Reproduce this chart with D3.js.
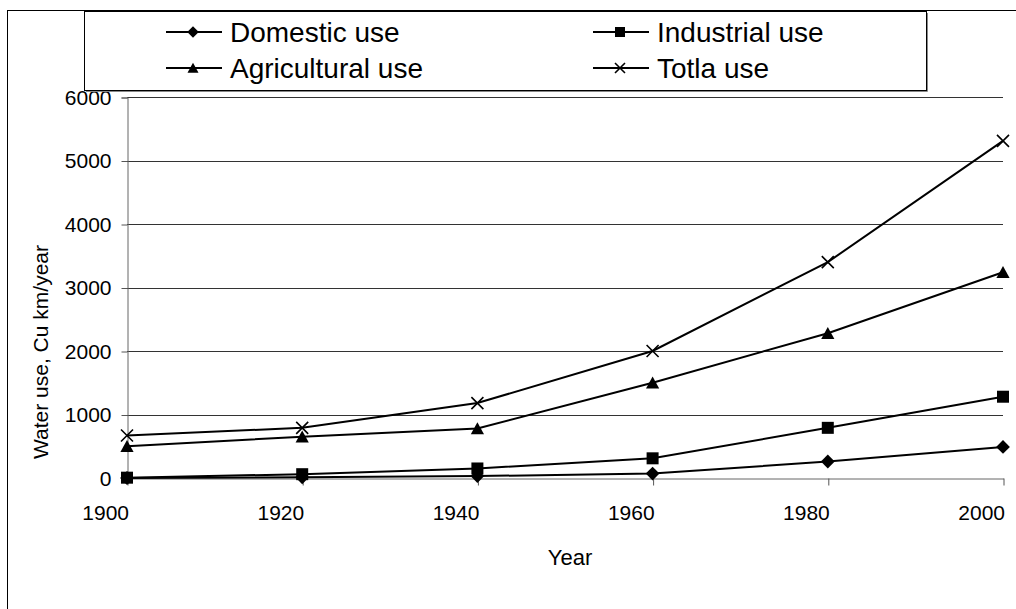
<!DOCTYPE html>
<html>
<head>
<meta charset="utf-8">
<script src="https://cdn.jsdelivr.net/npm/d3@7/dist/d3.min.js"></script>
<style>
  html, body { margin: 0; padding: 0; background: #fff; }
  svg { display: block; font-family: "Liberation Sans", Arial, sans-serif; }
</style>
</head>
<body>
<svg id="chart" width="1016" height="609"></svg>
<script>
// Water use by sector, cubic km per year
const years = ["1900", "1920", "1940", "1960", "1980", "2000"];
const domestic = [0, 10, 30, 70, 260, 490];
const industrial = [5, 60, 150, 310, 790, 1280];
const agricultural = [500, 650, 780, 1500, 2280, 3240];
const total = [670, 790, 1180, 2000, 3400, 5310];
const yTicks = [0, 1000, 2000, 3000, 4000, 5000, 6000];

const seriesNames = ["Domestic use", "Industrial use", "Agricultural use", "Totla use"];
const seriesShapes = ["diamond", "square", "triangle", "cross"];
const seriesValues = [domestic, industrial, agricultural, total];

const svg = d3.select("#chart");

const plot = { left: 127, right: 1003, top: 97, bottom: 478 };

const x = d3.scalePoint().domain(years).range([plot.left, plot.right]);
const y = d3.scaleLinear().domain([0, 6000]).range([plot.bottom, plot.top]);

// outer chart frame (runs past the right and bottom edges)
svg.append("rect")
  .attr("x", 7.5).attr("y", 10.5)
  .attr("width", 1100).attr("height", 700)
  .attr("fill", "#fff").attr("stroke", "#000").attr("stroke-width", 1);

// horizontal gridlines
svg.append("g")
  .selectAll("line")
  .data(yTicks.filter(d => d > 0))
  .join("line")
  .attr("x1", plot.left).attr("x2", plot.right)
  .attr("y1", d => Math.round(y(d)) + 0.5).attr("y2", d => Math.round(y(d)) + 0.5)
  .attr("stroke", "#333").attr("stroke-width", 1);

// y axis
const yAxis = d3.axisLeft(y).tickValues(yTicks).tickSize(6).tickPadding(10).tickFormat(d3.format("d"));
const gy = svg.append("g")
  .attr("transform", `translate(${plot.left + 0.5},0.5)`)
  .call(yAxis);
gy.select(".domain").attr("stroke", "#666");
gy.selectAll(".tick line").attr("stroke", "#555");
gy.selectAll(".tick text")
  .attr("font-size", 21).attr("fill", "#000")
  .attr("font-family", "'Liberation Sans', Arial, sans-serif");

// x axis
const xAxis = d3.axisBottom(x).tickSize(7).tickPadding(0).tickSizeOuter(0);
const gx = svg.append("g")
  .attr("transform", `translate(0.5,${plot.bottom + 0.5})`)
  .call(xAxis);
gx.select(".domain").attr("stroke", "#666");
gx.selectAll(".tick line").attr("stroke", "#555");
gx.selectAll(".tick text")
  .attr("font-size", 21).attr("fill", "#000")
  .attr("font-family", "'Liberation Sans', Arial, sans-serif")
  .attr("text-anchor", "end")
  .attr("x", 1)
  .attr("y", 41)
  .attr("dy", null);

// axis titles
svg.append("text")
  .attr("x", (plot.left + plot.right) / 2 + 5)
  .attr("y", 565)
  .attr("text-anchor", "middle")
  .attr("font-size", 22)
  .text("Year");

svg.append("text")
  .attr("transform", `translate(48,352) rotate(-90)`)
  .attr("text-anchor", "middle")
  .attr("font-size", 21)
  .text("Water use, Cu km/year");

// marker shapes
function markerPath(shape, s) {
  const h = s / 2;
  switch (shape) {
    case "diamond": return `M0,${-h * 1.15}L${h * 1.15},0L0,${h * 1.15}L${-h * 1.15},0Z`;
    case "square": return `M${-h},${-h}H${h}V${h}H${-h}Z`;
    case "triangle": return `M0,${-h * 1.05}L${h * 1.1},${h * 0.95}L${-h * 1.1},${h * 0.95}Z`;
    case "cross": return `M${-h},${-h}L${h},${h}M${h},${-h}L${-h},${h}`;
  }
}

function drawMarker(g, shape, s) {
  const p = g.append("path").attr("d", markerPath(shape, s));
  if (shape === "cross") {
    p.attr("fill", "none").attr("stroke", "#000").attr("stroke-width", 1.6);
  } else {
    p.attr("fill", "#000");
  }
}

const line = d3.line().x((d, i) => x(years[i])).y(d => y(d));

seriesValues.forEach((vals, si) => {
  const g = svg.append("g");
  g.append("path")
    .datum(vals)
    .attr("d", line)
    .attr("fill", "none")
    .attr("stroke", "#000")
    .attr("stroke-width", 2);
  vals.forEach((v, i) => {
    const m = g.append("g").attr("transform", `translate(${x(years[i])},${y(v)})`);
    drawMarker(m, seriesShapes[si], 12);
  });
});

// legend
const legend = svg.append("g");
legend.append("rect")
  .attr("x", 84.5).attr("y", 11.5)
  .attr("width", 842).attr("height", 79)
  .attr("fill", "#fff").attr("stroke", "#000").attr("stroke-width", 1);
legend.append("path")
  .attr("d", "M86,91.5H927.5V13")
  .attr("fill", "none").attr("stroke", "#888").attr("stroke-width", 1);

const legendCols = [166, 593];
const legendRows = [32, 68];
seriesNames.forEach((name, i) => {
  const cx = legendCols[i % 2];
  const cy = legendRows[Math.floor(i / 2)];
  const item = legend.append("g").attr("transform", `translate(${cx},${cy})`);
  item.append("line")
    .attr("x1", 0).attr("x2", 56).attr("y1", 0).attr("y2", 0)
    .attr("stroke", "#000").attr("stroke-width", 2);
  const m = item.append("g").attr("transform", "translate(27,0)");
  drawMarker(m, seriesShapes[i], 10);
  item.append("text")
    .attr("x", 64).attr("y", 0).attr("dy", "0.36em")
    .attr("font-size", 28)
    .text(name);
});
</script>
</body>
</html>
